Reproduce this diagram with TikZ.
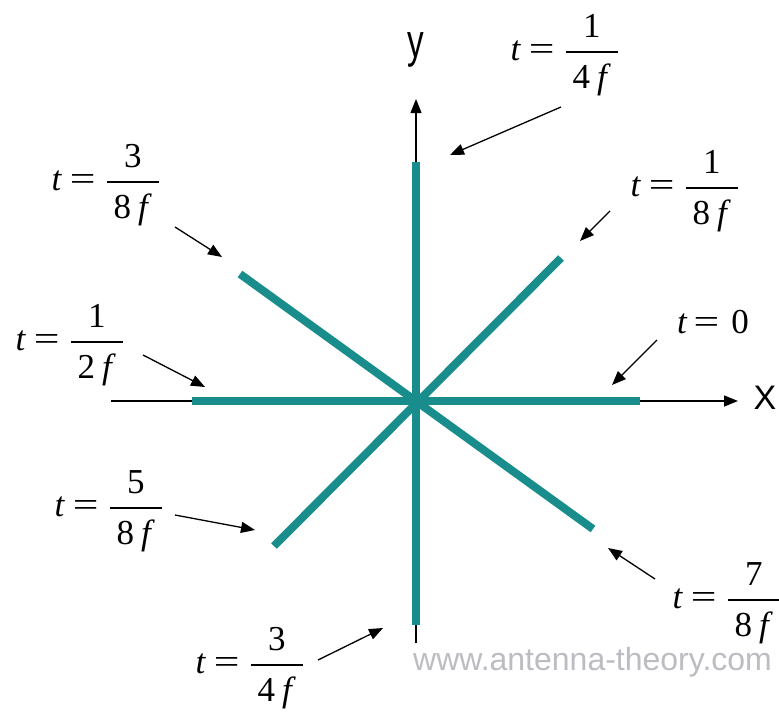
\RequirePackage{fix-cm}
\documentclass[tikz,border=0pt]{standalone}
\usepackage{amsmath}
\usepackage{fontspec}
\setmainfont{Liberation Serif}
\newfontfamily\arialf{Liberation Sans}
\usetikzlibrary{arrows.meta}
\definecolor{tealc}{RGB}{25,140,140}
\definecolor{wmgray}{RGB}{188,188,194}
\newcommand\myeq{\scalebox{1.3}[1]{=}}
\newcommand\myfr[2]{$\genfrac{}{}{1.6pt}{0}{\makebox[52pt]{#1}}{\makebox[52pt]{\rule{0pt}{31.4pt}#2\hspace{0.2em}\textit{f}}}$}
\newcommand\tlab[2]{\textit{t}\hspace{8pt}\myeq\hspace{10pt}\myfr{#1}{#2}}
\begin{document}
\begin{tikzpicture}[x=1pt,y=-1pt,
  lab/.style={inner sep=0pt,font=\fontsize{35}{40}\selectfont,anchor=base east},
  ann/.style={line width=1.3pt,-{Triangle[length=14pt,width=11pt]}},
  axisl/.style={line width=1.3pt,-{Triangle[length=14pt,width=11pt]}},
  dip/.style={line width=8pt,tealc},
  axlab/.style={inner sep=0pt,font=\arialf\fontsize{34}{40}\selectfont}]
\useasboundingbox[fill=white] (0,0) rectangle (779,715);
% axes
\coordinate (xs) at (111,401);
\coordinate (xe) at (738,401);
\coordinate (ys) at (416,643);
\coordinate (ye) at (416,99);
\draw[axisl] (xs) -- (xe);
\draw[axisl] (ys) -- (ye);
\node[axlab] (xlab) at (765,398) {X};
\node[axlab,font=\arialf\fontsize{35}{40}\selectfont] (ylab) at (416,50) {\scalebox{0.95}[1.35]{y}};
% dipole positions
\coordinate (hL) at (192,401);
\coordinate (hR) at (640,401);
\coordinate (vT) at (416,162);
\coordinate (vB) at (416,625);
\coordinate (d1a) at (240,274);
\coordinate (d1b) at (593,529);
\coordinate (d2a) at (274,546);
\coordinate (d2b) at (561,258);
\draw[dip] (hL) -- (hR);
\draw[dip] (vT) -- (vB);
\draw[dip] (d1a) -- (d1b);
\draw[dip] (d2a) -- (d2b);
% labels (base east at bar end, baseline = bar + axis)
\node[lab] (l14) at (619.2,60.7) {\tlab{1}{4}};
\node[lab] (l38) at (160.2,190.7) {\tlab{3}{8}};
\node[lab] (l18) at (739.2,196.7) {\tlab{1}{8}};
\node[lab] (l0) at (749,333) {\textit{t}\hspace{6pt}\myeq\hspace{12pt}0};
\node[lab] (l12) at (124.2,350.7) {\tlab{1}{2}};
\node[lab] (l58) at (163.2,516.7) {\tlab{5}{8}};
\node[lab] (l78) at (781.2,608.7) {\tlab{7}{8}};
\node[lab] (l34) at (304.2,673.7) {\tlab{3}{4}};
% annotation arrows
\coordinate (s14) at (561,107); \coordinate (e14) at (450,155);
\coordinate (s38) at (175,227); \coordinate (e38) at (222,257);
\coordinate (s18) at (610,211); \coordinate (e18) at (580,241);
\coordinate (s0) at (657,340);  \coordinate (e0) at (612,385);
\coordinate (s12) at (143,355); \coordinate (e12) at (205,387);
\coordinate (s58) at (175,515); \coordinate (e58) at (255,530);
\coordinate (s78) at (655,579); \coordinate (e78) at (608,548);
\coordinate (s34) at (318,660); \coordinate (e34) at (383,628);
\draw[ann] (s14) -- (e14);
\draw[ann] (s38) -- (e38);
\draw[ann] (s18) -- (e18);
\draw[ann] (s0) -- (e0);
\draw[ann] (s12) -- (e12);
\draw[ann] (s58) -- (e58);
\draw[ann] (s78) -- (e78);
\draw[ann] (s34) -- (e34);
% watermark
\node[inner sep=0pt,anchor=base west,text=wmgray,font=\arialf\fontsize{32}{36}\selectfont] (wm) at (413,670) {www.antenna-theory.com};
\end{tikzpicture}
\end{document}
